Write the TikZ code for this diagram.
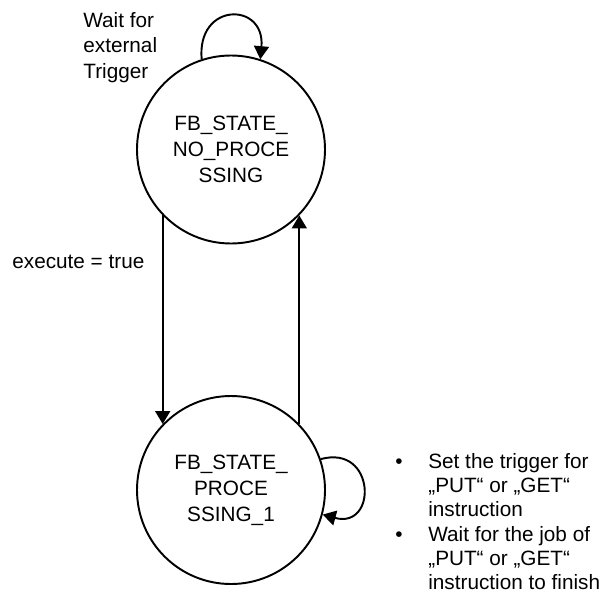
\documentclass[tikz,border=0pt]{standalone}
\usepackage{fontspec}
\setmainfont{Liberation Sans}
\usetikzlibrary{arrows.meta}

\begin{document}
\begin{tikzpicture}[
    font=\fontsize{11.8}{14.8}\selectfont,
    state/.style={circle, draw=black, line width=1.1pt, minimum size=3.76cm, inner sep=0pt, align=center},
    trans/.style={draw=black, line width=1.1pt, -{Triangle[length=2.6mm, width=3mm]}},
    lbl/.style={align=left, inner sep=0pt}
]
\useasboundingbox (0,0) rectangle (12.1,-11.92);
% states
\node[state] (np) at (4.62,-2.99) {FB\_STATE\_\\NO\_PROCE\\SSING};
\node[state] (p1) at (4.62,-9.8) {FB\_STATE\_\\PROCE\\SSING\_1};
% transitions between the states
\draw[trans] (np.224) -- (p1.136);
\draw[trans] (p1.44) -- (np.316);
% self loops
\draw[trans] (np.108) .. controls +(-0.1,1.15) and +(0.1,1.15) .. (np.72);
\draw[trans] (p1.19) .. controls +(1.1,0.3) and +(1.1,-0.3) .. (p1.-15);
% labels
\node[lbl, anchor=north west, font=\fontsize{11.8}{14.5}\selectfont] (wait) at (1.66,-0.24) {Wait for\\external\\Trigger};
\node[lbl, anchor=base west] (exec) at (0.24,-5.36) {execute = true};
\node[lbl, anchor=north west, font=\fontsize{11.8}{13.8}\selectfont] (todo) at (7.9,-9.06)
  {\makebox[0.66cm][l]{\textbullet}Set the trigger for\\
   \hspace*{0.66cm}„PUT“ or „GET“\\
   \hspace*{0.66cm}instruction\\
   \makebox[0.66cm][l]{\textbullet}Wait for the job of\\
   \hspace*{0.66cm}„PUT“ or „GET“\\
   \hspace*{0.66cm}instruction to finish};
\end{tikzpicture}
\end{document}
